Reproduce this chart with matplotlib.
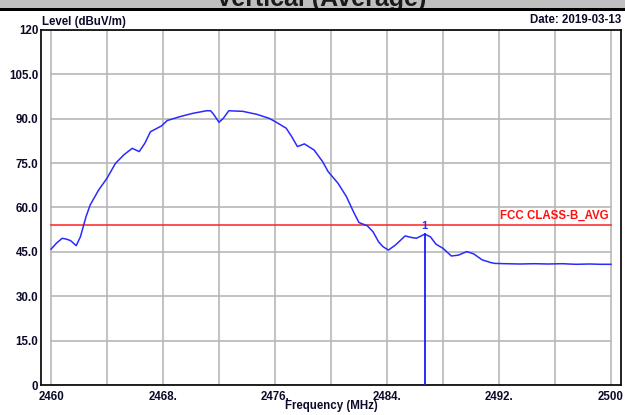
import matplotlib
matplotlib.use('Agg')
import matplotlib.pyplot as plt
from matplotlib.patches import Rectangle

plt.rcParams['font.family'] = ['Liberation Sans', 'DejaVu Sans']
plt.rcParams['font.weight'] = 'bold'

# spectrum trace (MHz, dBuV/m)
freq = [2460.0, 2460.4, 2460.8, 2461.1, 2461.4, 2461.8, 2462.1, 2462.5, 2462.8, 2463.4,
        2464.0, 2464.6, 2465.2, 2465.8, 2466.3, 2466.7, 2467.1, 2467.9, 2468.3, 2469.2,
        2470.1, 2471.1, 2471.4, 2471.6, 2472.0, 2472.3, 2472.7, 2473.7, 2474.7, 2475.6,
        2476.1, 2476.8, 2477.2, 2477.6, 2478.1, 2478.8, 2479.4, 2479.8, 2480.5, 2481.1,
        2481.6, 2482.0, 2482.6, 2483.0, 2483.4, 2483.7, 2484.1, 2484.6, 2485.3, 2485.7,
        2486.1, 2486.7, 2487.1, 2487.5, 2488.0, 2488.6, 2489.1, 2489.7, 2490.2, 2490.8,
        2491.4, 2491.7, 2492.5, 2493.5, 2494.5, 2495.5, 2496.5, 2497.5, 2498.5, 2499.2,
        2500.0]
level = [45.9, 48.0, 49.6, 49.3, 48.8, 47.1, 50.1, 56.9, 60.9, 65.9,
         69.9, 74.9, 77.8, 80.0, 78.9, 81.7, 85.6, 87.6, 89.4, 90.7,
         91.8, 92.7, 92.7, 91.6, 88.8, 90.1, 92.7, 92.5, 91.5, 90.1,
         88.8, 86.8, 83.9, 80.6, 81.5, 79.4, 75.5, 72.1, 68.2, 63.7,
         58.6, 54.9, 53.8, 51.8, 48.4, 46.8, 45.6, 47.3, 50.4, 49.9,
         49.6, 51.0, 50.1, 47.6, 46.2, 43.6, 43.9, 45.1, 44.3, 42.3,
         41.4, 41.1, 41.0, 40.9, 41.0, 40.9, 41.0, 40.8, 40.9, 40.8,
         40.8]

limit_level = 54.0
limit_name = 'FCC CLASS-B_AVG'
marker_freq = 2486.7
marker_level = 51.0

xticks = [2460, 2468, 2476, 2484, 2492, 2500]
xticklabels = ['2460', '2468.', '2476.', '2484.', '2492.', '2500']
yticks = [0, 15, 30, 45, 60, 75, 90, 105, 120]
yticklabels = ['0', '15.0', '30.0', '45.0', '60.0', '75.0', '90.0', '105.0', '120']

txt = '#0a0a28'
grid_c = '#b8b8b8'
fs = 8.3

fig = plt.figure(figsize=(6.25, 4.15), dpi=100)
ax = fig.add_axes([41 / 625, 30 / 415, 580 / 625, 355 / 415])

# header strip with the clipped title
fig.patches.append(Rectangle((0, 1 - 8 / 415), 1, 8 / 415, transform=fig.transFigure,
                             facecolor='#c0c0c0', edgecolor='none', zorder=1))
fig.text(321 / 625, 1 - 6 / 415, 'Vertical (Average)', ha='center', va='baseline',
         fontsize=18, color='#1a1a1a', zorder=2)
fig.patches.append(Rectangle((0, 1 - 11.5 / 415), 1, 3.5 / 415, transform=fig.transFigure,
                             facecolor='black', edgecolor='none', zorder=3))

pad = 10 / 13.97
ax.set_xlim(2460 - pad, 2500 + pad)
ax.set_ylim(0, 120)

# grid limited to the measurement span
for f in range(2460, 2501, 4):
    ax.plot([f, f], [0, 120], color=grid_c, lw=1.2, zorder=1)
for v in range(0, 121, 15):
    ax.plot([2460, 2500], [v, v], color=grid_c, lw=1.2, zorder=1)

ax.plot([2460, 2500], [limit_level, limit_level], color='#ff2020', lw=1.1, zorder=3)
ax.text(2499.8, limit_level + 1.3, limit_name, color='#ff1010', ha='right', va='bottom',
        fontsize=fs)

ax.plot(freq, level, color='#2a2aff', lw=1.1, zorder=4)
ax.plot([marker_freq, marker_freq], [0, marker_level], color='#1a1aff', lw=1.3, zorder=4)
ax.text(marker_freq, marker_level + 1.2, '1', color='#2030ff', ha='center', va='bottom',
        fontsize=8)

ax.set_xticks(xticks)
ax.set_xticklabels(xticklabels)
ax.set_yticks(yticks)
ax.set_yticklabels(yticklabels)
ax.tick_params(axis='both', length=0, labelsize=fs, labelcolor=txt)
ax.tick_params(axis='x', pad=4)
ax.tick_params(axis='y', pad=2)
for s in ax.spines.values():
    s.set_linewidth(1.3)
    s.set_color('#101010')

fig.text(331 / 625, 1 - 406 / 415, 'Frequency (MHz)', ha='center', va='center', fontsize=fs,
         color=txt)
fig.text(42 / 625, 1 - 22 / 415, 'Level (dBuV/m)', ha='left', va='center', fontsize=fs,
         color=txt)
fig.text(621 / 625, 1 - 20 / 415, 'Date: 2019-03-13', ha='right', va='center', fontsize=fs,
         color=txt)

fig.savefig('out.png', dpi=100)
